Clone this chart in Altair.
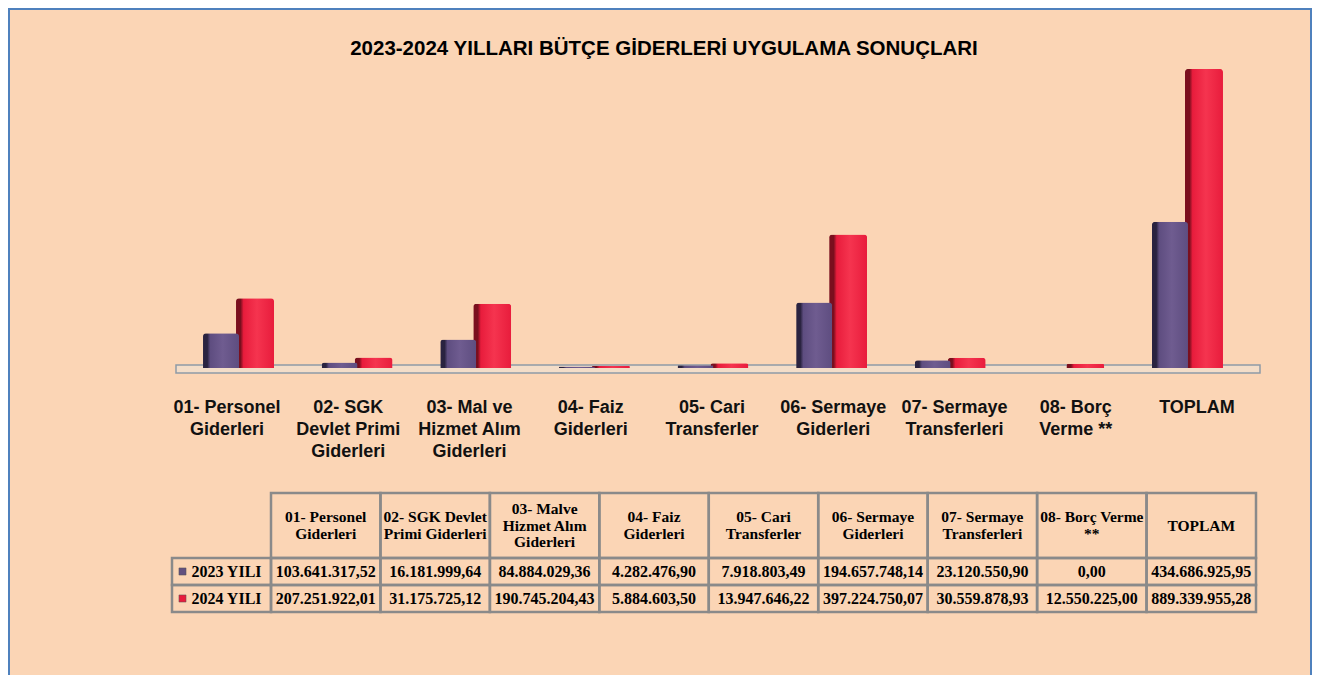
import altair as alt
import pandas as pd

# ---------------- data ----------------
title_text = "2023-2024 YILLARI BÜTÇE GİDERLERİ UYGULAMA SONUÇLARI"
keys = ["01", "02", "03", "04", "05", "06", "07", "08", "TOPLAM"]
bar_labels = [
    "01- Personel\nGiderleri",
    "02- SGK\nDevlet Primi\nGiderleri",
    "03- Mal ve\nHizmet Alım\nGiderleri",
    "04- Faiz\nGiderleri",
    "05- Cari\nTransferler",
    "06- Sermaye\nGiderleri",
    "07- Sermaye\nTransferleri",
    "08- Borç\nVerme **",
    "TOPLAM",
]
table_headers = [
    "01- Personel\nGiderleri",
    "02- SGK Devlet\nPrimi Giderleri",
    "03- Malve\nHizmet Alım\nGiderleri",
    "04- Faiz\nGiderleri",
    "05- Cari\nTransferler",
    "06- Sermaye\nGiderleri",
    "07- Sermaye\nTransferleri",
    "08- Borç Verme\n**",
    "TOPLAM",
]
years = ["2023 YILI", "2024 YILI"]
values_2023 = [103641317.52, 16181999.64, 84884029.36, 4282476.90, 7918803.49,
               194657748.14, 23120550.90, 0.00, 434686925.95]
values_2024 = [207251922.01, 31175725.12, 190745204.43, 5884603.50, 13947646.22,
               397224750.07, 30559878.93, 12550225.00, 889339955.28]

# ---------------- styles ----------------
PEACH = "#FBD5B5"
BORDER = "#4F81BD"
PURPLE = "#62507F"
RED = "#E81C3C"
GRID = "#8A8A8A"
SANS = "Liberation Sans"
SERIF = "Liberation Serif"
HEAD_LH = 16.5


def tr_fmt(v):
    s = f"{v:,.2f}"
    return s.replace(",", "X").replace(".", ",").replace("X", ".")


bars = pd.DataFrame({
    "key": keys * 2,
    "year": [years[0]] * len(keys) + [years[1]] * len(keys),
    "value": values_2023 + values_2024,
})
labels_df = pd.DataFrame({"key": keys, "label": bar_labels})
header_df = pd.DataFrame({
    "col": keys, "row": ["h"] * len(keys), "text": table_headers,
    "n": [t.count("\n") + 1 for t in table_headers],
})
cells_df = pd.DataFrame({
    "col": keys * 2,
    "row": [years[0]] * len(keys) + [years[1]] * len(keys),
    "text": [tr_fmt(v) for v in values_2023] + [tr_fmt(v) for v in values_2024],
})
rowlab_df = pd.DataFrame({"col": ["lbl", "lbl"], "row": years, "text": years})
title_df = pd.DataFrame({"t": [title_text]})

# ---------------- scales ----------------
bar_x = alt.Scale(domain=keys, range=[171.7, 1239.3], paddingInner=0, paddingOuter=0)
bar_y = alt.Scale(domain=[0, 900000000], range=[360, 57.4])
lab_x = alt.Scale(domain=keys, range=[158.4, 1249.6], paddingInner=0, paddingOuter=0)
tcol = alt.Scale(domain=keys, range=[263, 1248], paddingInner=0, paddingOuter=0)
tlab = alt.Scale(domain=["lbl"], range=[164, 263], paddingInner=0, paddingOuter=0)
thead_y = alt.Scale(domain=["h"], range=[485, 550], paddingInner=0, paddingOuter=0)
trow_y = alt.Scale(domain=years, range=[550, 604], paddingInner=0, paddingOuter=0)
year_color = alt.Scale(domain=years, range=[PURPLE, RED])


def grad(dark, mid, light):
    return alt.Gradient(
        gradient="linear", x1=0, x2=1, y1=0, y2=0,
        stops=[
            alt.GradientStop(color=dark, offset=0),
            alt.GradientStop(color=dark, offset=0.12),
            alt.GradientStop(color=mid, offset=0.2),
            alt.GradientStop(color=light, offset=0.55),
            alt.GradientStop(color=mid, offset=1),
        ],
    )


# ---------------- layers ----------------
title = alt.Chart(title_df).mark_text(
    font=SANS, fontSize=20.5, fontWeight="bold", color="black", baseline="middle", align="center"
).encode(text="t:N", x=alt.value(656), y=alt.value(41))

floor = alt.Chart(title_df).mark_rect(
    fill="#F3DDC8", stroke="#8E9BA6", strokeWidth=1.5
).encode(x=alt.value(168), x2=alt.value(1252), y=alt.value(357), y2=alt.value(365))

bar_red = alt.Chart(bars).transform_filter(alt.datum.year == years[1]).mark_bar(
    width=38, xOffset=16, cornerRadiusTopLeft=3, cornerRadiusTopRight=3,
    color=grad("#7A0F1E", "#E81C3C", "#F5344F"),
).encode(
    x=alt.X("key:N", scale=bar_x, axis=None),
    y=alt.Y("value:Q", scale=bar_y, axis=None),
)
bar_purple = alt.Chart(bars).transform_filter(alt.datum.year == years[0]).mark_bar(
    width=36, xOffset=-18, cornerRadiusTopLeft=3, cornerRadiusTopRight=3,
    color=grad("#2A2340", "#5E4D80", "#6F5C90"),
).encode(
    x=alt.X("key:N", scale=bar_x, axis=None),
    y=alt.Y("value:Q", scale=bar_y, axis=None),
)

cat_labels = alt.Chart(labels_df).mark_text(
    font=SANS, fontSize=18, fontWeight="bold", color="#111111",
    baseline="top", align="center", lineBreak="\n", lineHeight=22,
).encode(
    x=alt.X("key:N", scale=lab_x, axis=None),
    y=alt.value(391),
    text="label:N",
)

head_rect = alt.Chart(header_df).mark_rect(
    fillOpacity=0, stroke=GRID, strokeWidth=2.5
).encode(
    x=alt.X("col:N", scale=tcol, axis=None),
    y=alt.Y("row:N", scale=thead_y, axis=None),
)


def head_text_layer(n):
    return alt.Chart(header_df).transform_filter(alt.datum.n == n).mark_text(
        font=SERIF, fontSize=15.5, fontWeight="bold", color="black",
        baseline="middle", align="center", lineBreak="\n", lineHeight=HEAD_LH,
        dy=-(n - 1) * HEAD_LH / 2,
    ).encode(
        x=alt.X("col:N", scale=tcol, axis=None),
        y=alt.Y("row:N", scale=thead_y, axis=None),
        text="text:N",
    )


cell_rect = alt.Chart(cells_df).mark_rect(
    fillOpacity=0, stroke=GRID, strokeWidth=2.5
).encode(
    x=alt.X("col:N", scale=tcol, axis=None),
    y=alt.Y("row:N", scale=trow_y, axis=None),
)
cell_text = alt.Chart(cells_df).mark_text(
    font=SERIF, fontSize=16, fontWeight="bold", color="black",
    baseline="middle", align="center",
).encode(
    x=alt.X("col:N", scale=tcol, axis=None),
    y=alt.Y("row:N", scale=trow_y, axis=None),
    text="text:N",
)
lab_rect = alt.Chart(rowlab_df).mark_rect(
    fillOpacity=0, stroke=GRID, strokeWidth=2.5
).encode(
    x=alt.X("col:N", scale=tlab, axis=None),
    y=alt.Y("row:N", scale=trow_y, axis=None),
)
row_text = alt.Chart(rowlab_df).mark_text(
    font=SERIF, fontSize=16, fontWeight="bold", color="black",
    baseline="middle", align="center", dx=5,
).encode(
    x=alt.X("col:N", scale=tlab, axis=None),
    y=alt.Y("row:N", scale=trow_y, axis=None),
    text="text:N",
)
row_marker = alt.Chart(rowlab_df).mark_point(
    shape="square", size=50, filled=True, opacity=1, xOffset=-39, stroke="#555555", strokeWidth=0.5
).encode(
    x=alt.X("col:N", scale=tlab, axis=None),
    y=alt.Y("row:N", scale=trow_y, axis=None),
    color=alt.Color("row:N", scale=year_color, legend=None),
)

chart = alt.layer(
    title, floor, bar_red, bar_purple, cat_labels,
    head_rect, head_text_layer(1), head_text_layer(2), head_text_layer(3),
    cell_rect, cell_text, lab_rect, row_text, row_marker,
).resolve_scale(x="independent", y="independent", color="independent").properties(
    width=1304, height=670, padding=0,
    autosize=alt.AutoSizeParams(type="none"),
    background="white",
).configure_view(stroke=BORDER, strokeWidth=4, fill=PEACH)

chart.save("out.html", embed_options={"renderer": "svg", "actions": False})
